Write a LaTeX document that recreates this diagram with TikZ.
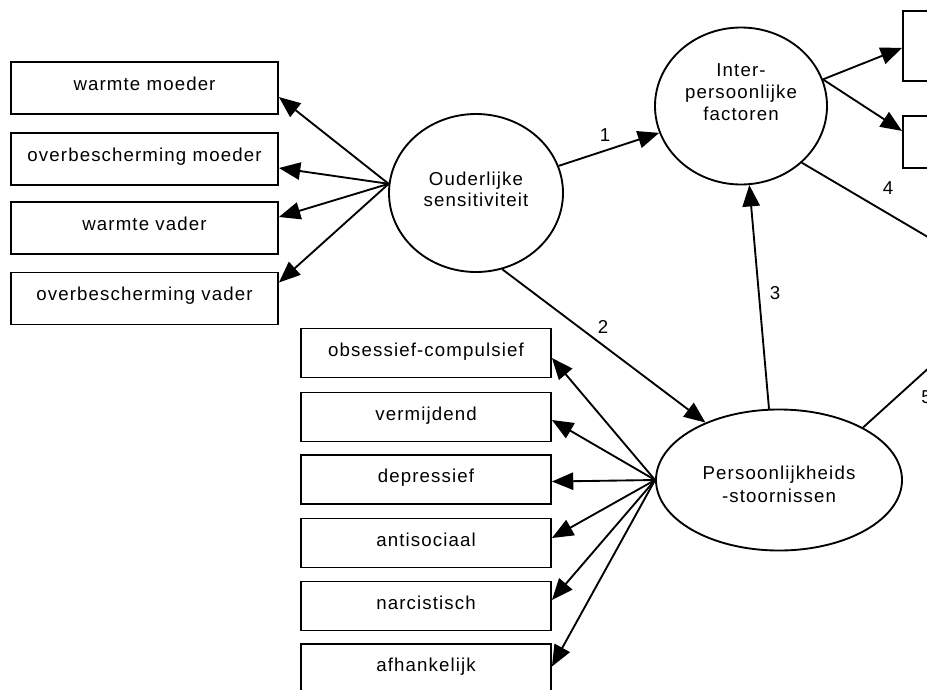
\documentclass[tikz,border=0pt]{standalone}
\usepackage{fontspec}
\setmainfont{Liberation Sans}[LetterSpace=6]
\usetikzlibrary{arrows.meta,shapes.geometric}
\begin{document}
\begin{tikzpicture}[x=0.75pt,y=-0.75pt,
  every node/.style={font=\fontsize{14pt}{17pt}\selectfont},
  ln/.style={line width=1.4pt},
  arr/.style={ln,-{Triangle[length=16pt,width=13pt]}},
  lbox/.style={draw,line width=1.4pt,rectangle,minimum width=200.25pt,minimum height=39pt,inner sep=0pt,text height=10pt,text depth=7pt},
  bbox/.style={draw,line width=1.4pt,rectangle,minimum width=187.5pt,minimum height=36.75pt,inner sep=0pt,text height=10pt,text depth=5.5pt},
  rbox/.style={draw,line width=1.4pt,rectangle,anchor=north west,minimum width=150pt,inner sep=0pt},
  lat/.style={draw,line width=1.4pt,ellipse,inner sep=0pt},
  txt/.style={align=center},
  num/.style={inner sep=0pt}
]
\useasboundingbox (0,0) rectangle (927,689);
\fill[white] (0,0) rectangle (927,689);
\clip (0,0) rectangle (927,689);

% latent variables
\node[lat,minimum width=130.5pt,minimum height=118.5pt] (ouder) at (476,193) {};
\node[txt] (otext) at (476,189) {Ouderlijke\\[-1.5pt]sensitiviteit};
\node[lat,minimum width=129pt,minimum height=117.75pt] (inter) at (741,106) {};
\node[txt,font=\fontsize{14pt}{16.7pt}\selectfont] (itext) at (741,92) {Inter-\\persoonlijke\\factoren};
\node[lat,minimum width=184.5pt,minimum height=105.75pt] (pers) at (779,480) {};
\node[txt,font=\fontsize{14pt}{17.5pt}\selectfont] (ptext) at (779,484) {Persoonlijkheids\\-stoornissen};

% left indicators
\node[lbox] (w1) at (144.5,88) {warmte moeder};
\node[lbox] (w2) at (144.5,159) {overbescherming moeder};
\node[lbox] (w3) at (144.5,228) {warmte vader};
\node[lbox] (w4) at (144.5,298.5) {overbescherming vader};

% bottom indicators
\node[bbox] (b1) at (426,353) {obsessief-compulsief};
\node[bbox] (b2) at (426,417) {vermijdend};
\node[bbox] (b3) at (426,479.5) {depressief};
\node[bbox] (b4) at (426,543) {antisociaal};
\node[bbox] (b5) at (426,606) {narcistisch};
\node[bbox] (b6) at (426,668.5) {afhankelijk};

% right indicators (cut off)
\node[rbox,minimum height=52.5pt] (rA) at (902,10) {};
\node[rbox,minimum height=39pt] (rB) at (902,115) {};

% off-canvas outcome
\coordinate (outc) at (1016,289);

% arrows to left indicators
\draw[arr] (ouder.174) -- ([yshift=-6.75pt]w1.east);
\draw[arr] (ouder.174) -- ([yshift=-6.75pt]w2.east);
\draw[arr] (ouder.174) -- ([yshift=8.25pt]w3.east);
\draw[arr] (ouder.174) -- ([yshift=12pt]w4.east);

% arrows to bottom indicators
\draw[arr] (pers.west) -- ([yshift=-3.75pt]b1.east);
\draw[arr] (pers.west) -- ([yshift=-2.25pt]b2.east);
\draw[arr] (pers.west) -- ([yshift=-1.5pt]b3.east);
\draw[arr] (pers.west) -- ([yshift=3.75pt]b4.east);
\draw[arr] (pers.west) -- ([yshift=4.5pt]b5.east);
\draw[arr] (pers.west) -- ([yshift=1.5pt]b6.east);

% arrows to right indicators
\draw[arr] (inter.18) -- ([yshift=-1.5pt]rA.west);
\draw[arr] (inter.18) -- ([yshift=8.25pt]rB.west);

% structural paths
\draw[arr] (ouder) -- (inter);
\draw[arr] (ouder.289) -- (pers.142);
\draw[arr] (pers.98) -- (inter.276);
\draw[ln] (inter.317) -- (outc);
\draw[ln] (pers.32) -- (outc);

% path labels
\node[num] (l1) at (605,135) {1};
\node[num] (l2) at (603,327) {2};
\node[num] (l3) at (775,293) {3};
\node[num] (l4) at (888,188) {4};
\node[num,anchor=west] (l5) at (921,397) {5};
\end{tikzpicture}
\end{document}
